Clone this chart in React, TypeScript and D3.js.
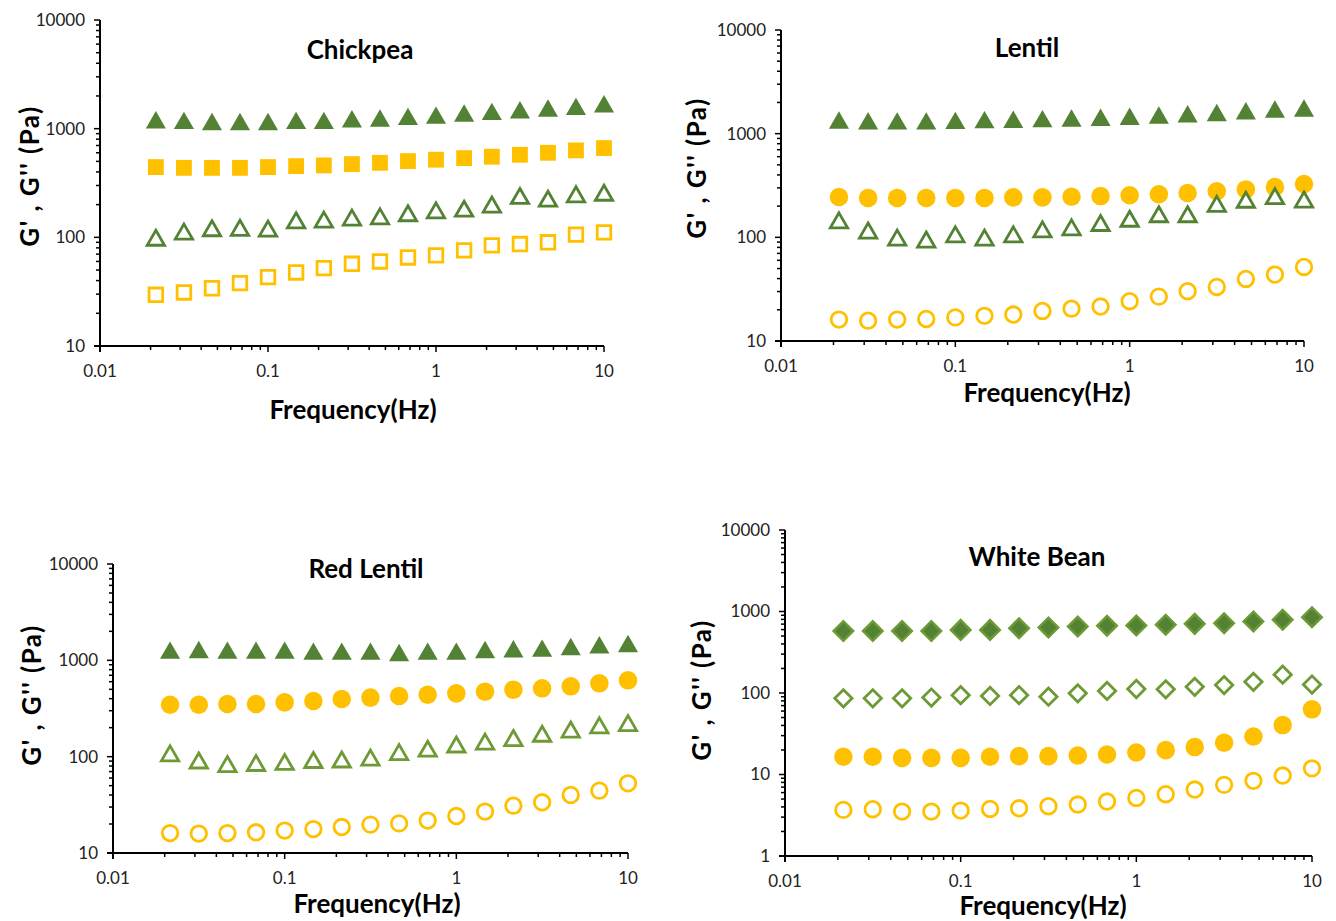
import React from "react";
import * as d3 from "d3";

const freq = [0.0215, 0.0316, 0.0464, 0.0681, 0.1, 0.147, 0.215, 0.316, 0.464, 0.681, 1, 1.47, 2.15, 3.16, 4.64, 6.81, 10];

// Chickpea
const chickpeaGp = [1136, 1120, 1096, 1096, 1096, 1120, 1120, 1160, 1177, 1219, 1254, 1309, 1356, 1405, 1455, 1508, 1596];
const chickpeaGpp = [94, 107, 115, 116, 114, 136, 138, 144, 148, 158, 168, 174, 190, 228, 215, 236, 244];
const chickpeaSqFilled = [443, 436, 436, 436, 443, 452, 459, 472, 485, 503, 518, 536, 552, 575, 600, 631, 663];
const chickpeaSqOpen = [29.6, 31.1, 34, 37.9, 43, 47.5, 52.1, 57.1, 60, 65.3, 68.2, 75.9, 84.3, 86.7, 90, 106, 111];

// Lentil
const lentilGp = [1270, 1250, 1245, 1245, 1260, 1280, 1290, 1310, 1330, 1350, 1380, 1420, 1460, 1500, 1560, 1620, 1660];
const lentilCircFilled = [245, 240, 240, 240, 240, 240, 243, 243, 246, 250, 255, 260, 268, 278, 290, 305, 327];
const lentilGpp = [138, 110, 94, 90, 101, 94, 101, 113, 118, 130, 143, 158, 158, 199, 218, 236, 219];
const lentilCircOpen = [16.1, 15.7, 16.1, 16.3, 16.9, 17.5, 18, 19.5, 20.5, 21.5, 24.2, 26.8, 30.2, 33.2, 39.7, 43.7, 51.8];

// Red Lentil
const redGp = [1191, 1210, 1191, 1191, 1191, 1163, 1163, 1163, 1127, 1163, 1163, 1210, 1230, 1250, 1300, 1353, 1397];
const redCircFilled = [346, 346, 352, 352, 366, 378, 397, 410, 427, 440, 454, 473, 496, 512, 537, 577, 620];
const redGpp = [102, 86, 79, 81, 83, 87, 88, 92, 105, 114, 126, 135, 147, 163, 180, 199, 210];
const redCircOpen = [16.1, 15.9, 16.1, 16.4, 17.1, 17.7, 18.6, 19.7, 20.3, 21.7, 24.2, 26.9, 31, 33.6, 40, 44.4, 52.9];

// White Bean
const wbGp = [578, 578, 578, 578, 595, 595, 624, 636, 654, 667, 673, 686, 705, 719, 753, 790, 851];
const wbGpp = [86, 86, 86, 88, 94, 92, 94, 90, 99, 106, 112, 111, 119, 125, 137, 168, 127];
const wbCircFilled = [16.5, 16.5, 16.0, 16.0, 16.0, 16.5, 16.8, 16.8, 17.1, 17.6, 18.6, 19.9, 21.7, 24.5, 29.3, 40.4, 63];
const wbCircOpen = [3.68, 3.75, 3.51, 3.51, 3.61, 3.78, 3.85, 4.08, 4.28, 4.66, 5.16, 5.73, 6.54, 7.46, 8.36, 9.72, 11.9];

const xTickLabels = ["0.01", "0.1", "1", "10"];
const yTickLabels10 = ["10", "100", "1000", "10000"];
const yTickLabels1 = ["1", "10", "100", "1000", "10000"];

const GREEN = "#548235";
const GREEN_LIGHT = "#6E9A36";
const YELLOW = "#FFC000";
const FONT = "Lato, 'Open Sans', sans-serif";

type Marker = "triUp" | "square" | "circle" | "diamond";
type Series = { values: number[]; marker: Marker; filled: boolean; color: string; stroke?: string };
type Panel = {
  title: string;
  left: number; top: number; right: number; bottom: number;
  yMin: number;
  yLabels: string[];
  titlePos: [number, number];
  xTitlePos: [number, number];
  yTitlePos: [number, number];
  series: Series[];
};

const panels: Panel[] = [
  {
    title: "Chickpea", left: 100, top: 20, right: 604, bottom: 346, yMin: 10, yLabels: yTickLabels10,
    titlePos: [360, 50], xTitlePos: [353, 410], yTitlePos: [30, 176],
    series: [
      { values: chickpeaGp, marker: "triUp", filled: true, color: GREEN },
      { values: chickpeaSqFilled, marker: "square", filled: true, color: YELLOW },
      { values: chickpeaGpp, marker: "triUp", filled: false, color: GREEN },
      { values: chickpeaSqOpen, marker: "square", filled: false, color: YELLOW },
    ],
  },
  {
    title: "Lentil", left: 781, top: 30, right: 1304, bottom: 341, yMin: 10, yLabels: yTickLabels10,
    titlePos: [1027, 48], xTitlePos: [1047, 393], yTitlePos: [697, 168],
    series: [
      { values: lentilGp, marker: "triUp", filled: true, color: GREEN },
      { values: lentilCircFilled, marker: "circle", filled: true, color: YELLOW },
      { values: lentilGpp, marker: "triUp", filled: false, color: GREEN },
      { values: lentilCircOpen, marker: "circle", filled: false, color: YELLOW },
    ],
  },
  {
    title: "Red Lentil", left: 113, top: 564, right: 628, bottom: 853, yMin: 10, yLabels: yTickLabels10,
    titlePos: [366, 569], xTitlePos: [377, 904], yTitlePos: [32, 695],
    series: [
      { values: redGp, marker: "triUp", filled: true, color: GREEN },
      { values: redCircFilled, marker: "circle", filled: true, color: YELLOW },
      { values: redGpp, marker: "triUp", filled: false, color: GREEN_LIGHT },
      { values: redCircOpen, marker: "circle", filled: false, color: YELLOW },
    ],
  },
  {
    title: "White Bean", left: 785, top: 530, right: 1312, bottom: 856, yMin: 1, yLabels: yTickLabels1,
    titlePos: [1037, 557], xTitlePos: [1043, 906], yTitlePos: [702, 690],
    series: [
      { values: wbGp, marker: "diamond", filled: true, color: GREEN, stroke: GREEN_LIGHT },
      { values: wbGpp, marker: "diamond", filled: false, color: GREEN_LIGHT },
      { values: wbCircFilled, marker: "circle", filled: true, color: YELLOW },
      { values: wbCircOpen, marker: "circle", filled: false, color: YELLOW },
    ],
  },
];

function markerPath(m: Marker, filled: boolean): string {
  if (m === "triUp") return d3.symbol(d3.symbolTriangle, filled ? 175 : 130)()!;
  if (m === "square") return d3.symbol(d3.symbolSquare, filled ? 250 : 185)()!;
  if (m === "circle") return d3.symbol(d3.symbolCircle, filled ? 270 : 190)()!;
  return d3.symbol(d3.symbolSquare, filled ? 190 : 150)()!;
}

function PanelView({ p }: { p: Panel }) {
  const x = d3.scaleLog().domain([0.01, 10]).range([p.left, p.right]);
  const y = d3.scaleLog().domain([p.yMin, 10000]).range([p.bottom, p.top]);
  const xTicks = x.ticks();
  const yTicks = y.ticks();
  const isMajor = (v: number) => Math.abs(Math.log10(v) - Math.round(Math.log10(v))) < 1e-9;
  const xMajors = xTicks.filter(isMajor);
  const yMajors = yTicks.filter(isMajor);
  return (
    <g>
      <line x1={p.left - 6} x2={p.right} y1={p.bottom} y2={p.bottom} stroke="#000" strokeWidth={2} />
      <line x1={p.left} x2={p.left} y1={p.top} y2={p.bottom + 6} stroke="#000" strokeWidth={2} />
      {xTicks.map((t, i) => {
        const maj = isMajor(t);
        return (
          <line key={"xt" + i} x1={x(t)} x2={x(t)} y1={p.bottom} y2={p.bottom + (maj ? 6 : 4)} stroke="#000" strokeWidth={1.5} />
        );
      })}
      {yTicks.map((t, i) => {
        const maj = isMajor(t);
        return (
          <line key={"yt" + i} x1={p.left - (maj ? 6 : 4)} x2={p.left} y1={y(t)} y2={y(t)} stroke="#000" strokeWidth={1.5} />
        );
      })}
      {xMajors.map((t, i) => (
        <text key={"xl" + i} x={x(t)} y={p.bottom + 25} dy="0.35em" textAnchor="middle" fontFamily={FONT} fontSize={17} fill="#222">
          {xTickLabels[i]}
        </text>
      ))}
      {yMajors.map((t, i) => (
        <text key={"yl" + i} x={p.left - 15} y={y(t)} dy="0.35em" textAnchor="end" fontFamily={FONT} fontSize={17} fill="#222">
          {p.yLabels[i]}
        </text>
      ))}
      <text x={p.titlePos[0]} y={p.titlePos[1]} dy="0.35em" textAnchor="middle" fontFamily={FONT} fontWeight="bold" fontSize={26} fill="#000">
        {p.title}
      </text>
      <text x={p.xTitlePos[0]} y={p.xTitlePos[1]} dy="0.35em" textAnchor="middle" fontFamily={FONT} fontWeight="bold" fontSize={26} fill="#000">
        Frequency(Hz)
      </text>
      <text transform={`translate(${p.yTitlePos[0]},${p.yTitlePos[1]}) rotate(-90)`} dy="0.35em" textAnchor="middle" fontFamily={FONT} fontWeight="bold" fontSize={26} letterSpacing={1.5} fill="#000">
        G' , G'' (Pa)
      </text>
      {p.series.map((s, si) => {
        const path = markerPath(s.marker, s.filled);
        const rot = s.marker === "diamond" ? " rotate(45)" : "";
        return (
          <g key={"s" + si}>
            {s.values.map((v, i) => (
              <path
                key={i}
                d={path}
                transform={`translate(${x(freq[i])},${y(v)})${rot}`}
                fill={s.filled ? s.color : "#fff"}
                stroke={s.filled ? (s.stroke ?? "none") : s.color}
                strokeWidth={s.filled ? 2.5 : 2.8}
                strokeLinejoin="miter"
              />
            ))}
          </g>
        );
      })}
    </g>
  );
}

export default function App() {
  return (
    <svg width={1336} height={921} style={{ position: "absolute", left: 0, top: 0, background: "#fff" }}>
      <rect width={1336} height={921} fill="#fff" />
      {panels.map((p, i) => (
        <PanelView key={i} p={p} />
      ))}
    </svg>
  );
}
